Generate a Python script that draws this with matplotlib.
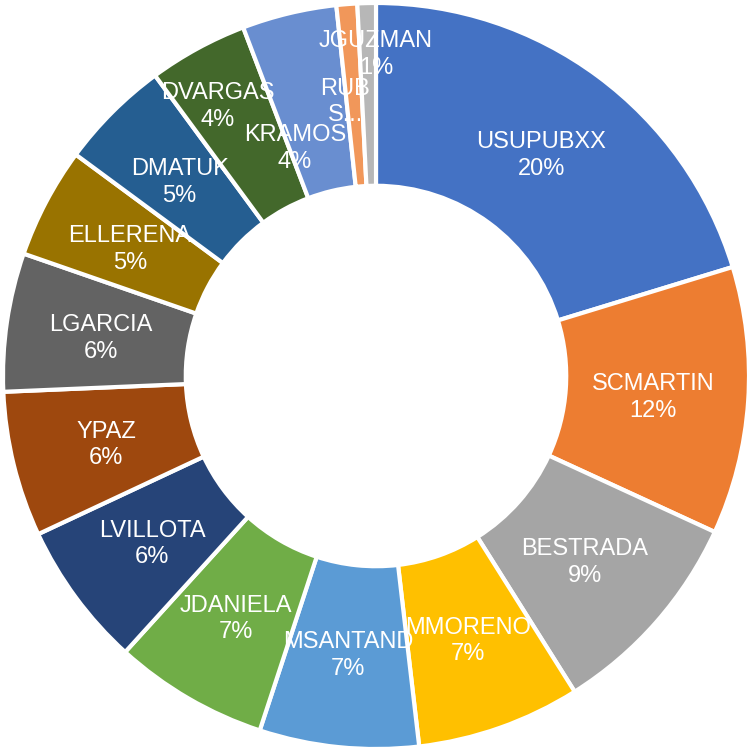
import matplotlib.pyplot as plt
import numpy as np

# user share data
users = ['USUPUBXX', 'SCMARTIN', 'BESTRADA', 'MMORENO', 'MSANTAND', 'JDANIELA',
         'LVILLOTA', 'YPAZ', 'LGARCIA', 'ELLERENA', 'DMATUK', 'DVARGAS',
         'KRAMOS', 'RUBENS', 'JGUZMAN']
counts = [203, 116, 92, 71, 69, 67, 63, 63, 60, 48, 48, 43, 41, 9, 8]
colors = ['#4472C4', '#ED7D31', '#A5A5A5', '#FFC000', '#5B9BD5', '#70AD47',
          '#264478', '#9E480E', '#636363', '#997300', '#255E91', '#43682B',
          '#698ED0', '#F1975A', '#B7B7B7']

plt.rcParams['font.family'] = ['Liberation Sans', 'DejaVu Sans']

fig = plt.figure(figsize=(7.48, 7.52), dpi=100)
ax = fig.add_axes([0, 0, 1, 1])

wedges, _ = ax.pie(counts, colors=colors, startangle=90, counterclock=False,
                   radius=1, wedgeprops=dict(width=0.49, edgecolor='white', linewidth=3))

total = sum(counts)
# label text overrides and moved label positions for the crowded slices
text_override = {'RUBENS': 'RUB\nS...'}
moved = {'DVARGAS': (-0.424, 0.722), 'KRAMOS': (-0.217, 0.610),
         'RUBENS': (-0.083, 0.735), 'JGUZMAN': (0.0, 0.862)}

for w, name, c in zip(wedges, users, counts):
    ang = np.deg2rad((w.theta1 + w.theta2) / 2)
    x, y = 0.745 * np.cos(ang), 0.745 * np.sin(ang) - 0.008
    if name in moved:
        x, y = moved[name]
    if name in text_override:
        txt = text_override[name]
    else:
        txt = f'{name}\n{100 * c / total:.0f}%'
    ax.text(x, y, txt, ha='center', va='center', color='white',
            fontsize=17, linespacing=1.27)

ax.set_xlim(-376 / 373, 372 / 373)
ax.set_ylim(-376 / 373, 376 / 373)
ax.set_aspect('auto')
ax.axis('off')

fig.savefig('out.png', dpi=100, facecolor='white')
